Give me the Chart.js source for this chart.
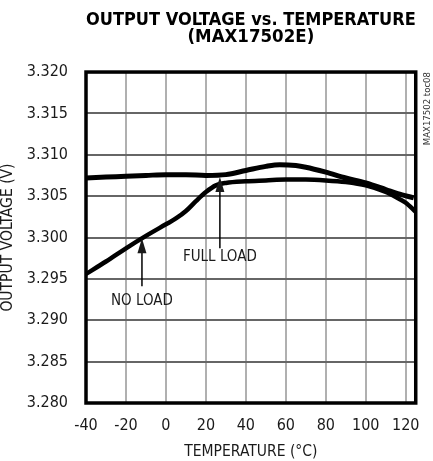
<!DOCTYPE html>
<html>
<head>
<meta charset="utf-8">
<title>Output voltage vs. temperature</title>
<script src="https://cdn.jsdelivr.net/npm/chart.js@4.4.1/dist/chart.umd.min.js"></script>
<style>
    html, body { margin: 0; padding: 0; background: #fff; }
    canvas { display: block; }
</style>
</head>
<body>
<canvas id="chart" width="433" height="461"></canvas>
<script>
        // axis ticks
        const xTicks = [-40, -20, 0, 20, 40, 60, 80, 100, 120];
        const yTicks = [3.280, 3.285, 3.290, 3.295, 3.300, 3.305, 3.310, 3.315, 3.320];

        // NO LOAD curve (°C, V)
        const tempNoLoad = [-40, -30, -20, -10, 0, 5, 10, 15, 20, 25, 30, 40, 50, 60, 70, 80, 90, 100, 110, 115, 120, 125];
        const voltNoLoad = [3.2956, 3.2971, 3.2987, 3.3002, 3.3016, 3.3023, 3.3032, 3.3044, 3.3055, 3.3063, 3.3066, 3.3068, 3.3069, 3.3070, 3.3070, 3.3069, 3.3067, 3.3063, 3.3055, 3.3049, 3.3042, 3.3031];

        // FULL LOAD curve (°C, V)
        const tempFullLoad = [-40, -30, -20, -10, 0, 10, 20, 30, 40, 50, 57, 65, 70, 80, 90, 100, 110, 116, 124];
        const voltFullLoad = [3.3072, 3.3073, 3.3074, 3.3075, 3.3076, 3.3076, 3.3075, 3.3076, 3.3081, 3.3086, 3.3088, 3.3087, 3.3085, 3.3079, 3.3072, 3.3066, 3.3058, 3.3053, 3.3048];

        const narrow = "'Liberation Sans Narrow', 'DejaVu Sans Condensed', sans-serif";

        // labels with arrows, placed in data units
        const callouts = [
            { text: 'NO LOAD', x: -12, tip: 3.2999, tail: 3.2941, textY: 3.2923 },
            { text: 'FULL LOAD', x: 27, tip: 3.3073, tail: 3.2987, textY: 3.2976 }
        ];

        const extrasPlugin = {
            id: 'extras',
            afterDatasetsDraw(chart) {
                const ctx = chart.ctx;
                const area = chart.chartArea;
                const xs = chart.scales.x;
                const ys = chart.scales.y;

                // callouts
                ctx.save();
                ctx.fillStyle = '#1a1a1a';
                ctx.strokeStyle = '#000';
                ctx.font = '15px ' + narrow;
                ctx.textAlign = 'center';
                ctx.textBaseline = 'middle';
                callouts.forEach(c => {
                    const px = xs.getPixelForValue(c.x);
                    const tipY = ys.getPixelForValue(c.tip);
                    const tailY = ys.getPixelForValue(c.tail);
                    ctx.lineWidth = 1.5;
                    ctx.beginPath();
                    ctx.moveTo(px, tailY);
                    ctx.lineTo(px, tipY + 10);
                    ctx.stroke();
                    ctx.beginPath();
                    ctx.moveTo(px, tipY);
                    ctx.lineTo(px - 4.5, tipY + 15);
                    ctx.lineTo(px + 4.5, tipY + 15);
                    ctx.closePath();
                    ctx.fill();
                    ctx.fillText(c.text, px, ys.getPixelForValue(c.textY));
                });
                ctx.restore();

                // plot frame
                ctx.save();
                ctx.strokeStyle = '#000';
                ctx.lineWidth = 3.5;
                ctx.strokeRect(area.left, area.top, area.right - area.left, area.bottom - area.top);
                ctx.restore();

                // figure id on the right
                ctx.save();
                ctx.fillStyle = '#333';
                ctx.font = '9.5px ' + narrow;
                ctx.translate(area.right + 12, area.top);
                ctx.rotate(-Math.PI / 2);
                ctx.textAlign = 'right';
                ctx.textBaseline = 'middle';
                ctx.fillText('MAX17502 toc08', 0, 0);
                ctx.restore();
            }
        };

        const ctx = document.getElementById('chart').getContext('2d');
        new Chart(ctx, {
            type: 'line',
            data: {
                datasets: [{
                    label: 'NO LOAD',
                    data: tempNoLoad.map((t, i) => ({ x: t, y: voltNoLoad[i] })),
                    borderColor: '#000',
                    borderWidth: 4.5,
                    pointRadius: 0,
                    cubicInterpolationMode: 'monotone'
                }, {
                    label: 'FULL LOAD',
                    data: tempFullLoad.map((t, i) => ({ x: t, y: voltFullLoad[i] })),
                    borderColor: '#000',
                    borderWidth: 5,
                    pointRadius: 0,
                    cubicInterpolationMode: 'monotone'
                }]
            },
            options: {
                responsive: false,
                devicePixelRatio: 1,
                animation: false,
                layout: { padding: { left: 0, right: 15, top: 0, bottom: 0 } },
                plugins: {
                    legend: { display: false },
                    tooltip: { enabled: false },
                    title: {
                        display: true,
                        fullSize: false,
                        text: ['OUTPUT VOLTAGE vs. TEMPERATURE', '(MAX17502E)'],
                        color: '#000',
                        font: { family: narrow, size: 18.5, weight: 'bold', lineHeight: 0.92 },
                        padding: { top: 12, bottom: 26 }
                    }
                },
                scales: {
                    x: {
                        type: 'linear',
                        min: -40,
                        max: 125,
                        afterFit(scale) { scale.height = 58; },
                        afterBuildTicks(scale) { scale.ticks = xTicks.map(v => ({ value: v })); },
                        grid: { color: '#b0b0b0', lineWidth: 2, drawTicks: false },
                        border: { display: false },
                        ticks: {
                            padding: 13,
                            color: '#1a1a1a',
                            font: { family: narrow, size: 16 },
                            maxRotation: 0
                        },
                        title: {
                            display: true,
                            text: 'TEMPERATURE (°C)',
                            color: '#1a1a1a',
                            font: { family: narrow, size: 15.5, lineHeight: 1 },
                            padding: { top: 0, bottom: 1.5 }
                        }
                    },
                    y: {
                        type: 'linear',
                        min: 3.280,
                        max: 3.320,
                        afterFit(scale) { scale.width = 86; },
                        afterBuildTicks(scale) { scale.ticks = yTicks.map(v => ({ value: v })); },
                        grid: { color: '#666', lineWidth: 2, drawTicks: false },
                        border: { display: false },
                        ticks: {
                            padding: 18,
                            color: '#1a1a1a',
                            font: { family: narrow, size: 16 },
                            callback: v => v.toFixed(3)
                        },
                        title: {
                            display: true,
                            text: 'OUTPUT VOLTAGE (V)',
                            color: '#1a1a1a',
                            font: { family: narrow, size: 15.5, lineHeight: 1 },
                            padding: { top: 0, bottom: 0 }
                        }
                    }
                }
            },
            plugins: [extrasPlugin]
        });
</script>
</body>
</html>
